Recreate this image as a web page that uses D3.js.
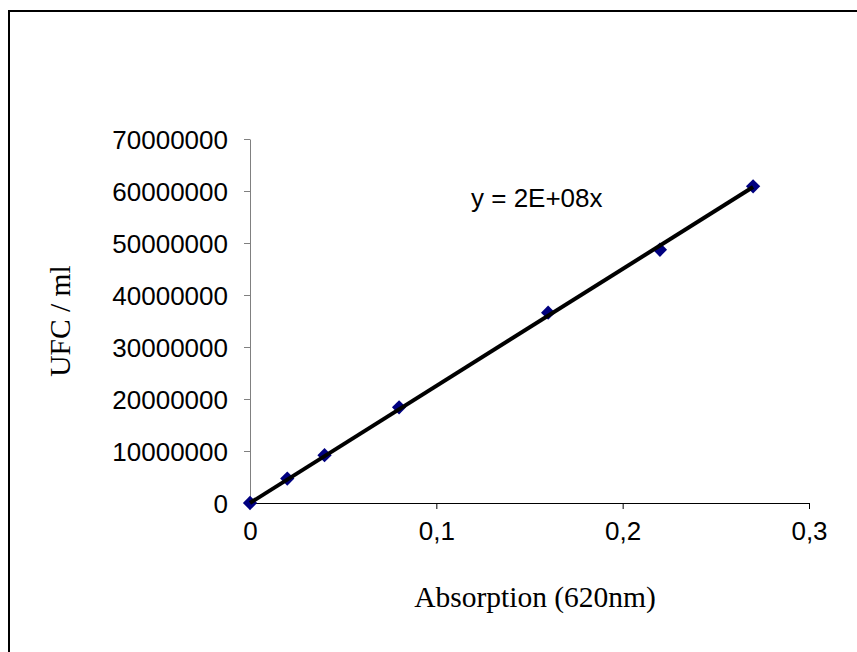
<!DOCTYPE html>
<html>
<head>
<meta charset="utf-8">
<script src="https://cdn.jsdelivr.net/npm/d3@7"></script>
<style>
  html, body { margin: 0; padding: 0; background: #fff; }
  svg { display: block; }
  .tick text { font-family: "Liberation Sans", Arial, sans-serif; font-size: 26px; fill: #000; }
  .title { font-family: "Liberation Serif", "Times New Roman", serif; font-size: 29.5px; fill: #000; }
</style>
</head>
<body>
<svg id="chart" width="857" height="652"></svg>
<script>
// absorbance (620nm) vs UFC / ml
const absorption = [0, 0.02, 0.04, 0.08, 0.16, 0.22, 0.27];
const ufc = [0, 4700000, 9200000, 18400000, 36600000, 48700000, 60900000];
const xTicks = [0, 0.1, 0.2, 0.3];
const yTicks = [0, 10000000, 20000000, 30000000, 40000000, 50000000, 60000000, 70000000];
const equationLabel = "y = 2E+08x";

const svg = d3.select("#chart");

// outer chart frame (runs off the right / bottom edge)
svg.append("rect")
    .attr("x", 9).attr("y", 11)
    .attr("width", 900).attr("height", 700)
    .attr("fill", "none")
    .attr("stroke", "#000")
    .attr("stroke-width", 2);

const plot = { left: 250, right: 809, top: 139, bottom: 503 };

const x = d3.scaleLinear().domain([0, 0.3]).range([plot.left, plot.right]);
const y = d3.scaleLinear().domain([0, 70000000]).range([plot.bottom, plot.top]);

const comma = d3.formatLocale({ decimal: ",", thousands: "", grouping: [3], currency: ["", ""] });

// y axis
const yAxis = svg.append("g")
    .attr("transform", `translate(${plot.left},0)`)
    .call(d3.axisLeft(y).tickValues(yTicks).tickFormat(d3.format("d"))
        .tickSize(6).tickSizeOuter(0).tickPadding(16));
yAxis.select(".domain").attr("stroke", "#808080");
yAxis.selectAll(".tick line").attr("stroke", "#808080");
yAxis.selectAll(".tick text").attr("dy", "0.36em");

// x axis
const xAxis = svg.append("g")
    .attr("transform", `translate(0,${plot.bottom})`)
    .call(d3.axisBottom(x).tickValues(xTicks).tickFormat(comma.format("~g"))
        .tickSize(6).tickSizeOuter(0).tickPadding(22));
xAxis.select(".domain").attr("stroke", "#000");
xAxis.selectAll(".tick line").attr("stroke", "#000");
xAxis.selectAll(".tick text").attr("dy", "0.36em");

const pts = absorption.map((a, i) => ({ a, u: ufc[i] }));

// markers (drawn first, the trendline sits on top)
const diamond = d3.symbol().type(d3.symbolDiamond2).size(130);
svg.append("g")
    .selectAll("path")
    .data(pts)
    .join("path")
    .attr("d", diamond)
    .attr("transform", d => `translate(${x(d.a)},${y(d.u)})`)
    .attr("fill", "#000080");

// linear trendline through origin (least squares)
const slope = d3.sum(pts, d => d.a * d.u) / d3.sum(pts, d => d.a * d.a);
const xMax = d3.max(absorption);

svg.append("line")
    .attr("x1", x(0)).attr("y1", y(0))
    .attr("x2", x(xMax)).attr("y2", y(slope * xMax))
    .attr("stroke", "#000")
    .attr("stroke-width", 4);

// trendline equation
svg.append("text")
    .attr("x", 471).attr("y", 207)
    .style("font-family", "'Liberation Sans', Arial, sans-serif")
    .style("font-size", "26px")
    .text(equationLabel);

// axis titles
svg.append("text")
    .attr("class", "title")
    .attr("x", 535)
    .attr("y", 607)
    .attr("text-anchor", "middle")
    .text("Absorption (620nm)");

svg.append("text")
    .attr("class", "title")
    .attr("transform", `translate(70,${(plot.top + plot.bottom) / 2}) rotate(-90)`)
    .attr("text-anchor", "middle")
    .text("UFC / ml");
</script>
</body>
</html>
